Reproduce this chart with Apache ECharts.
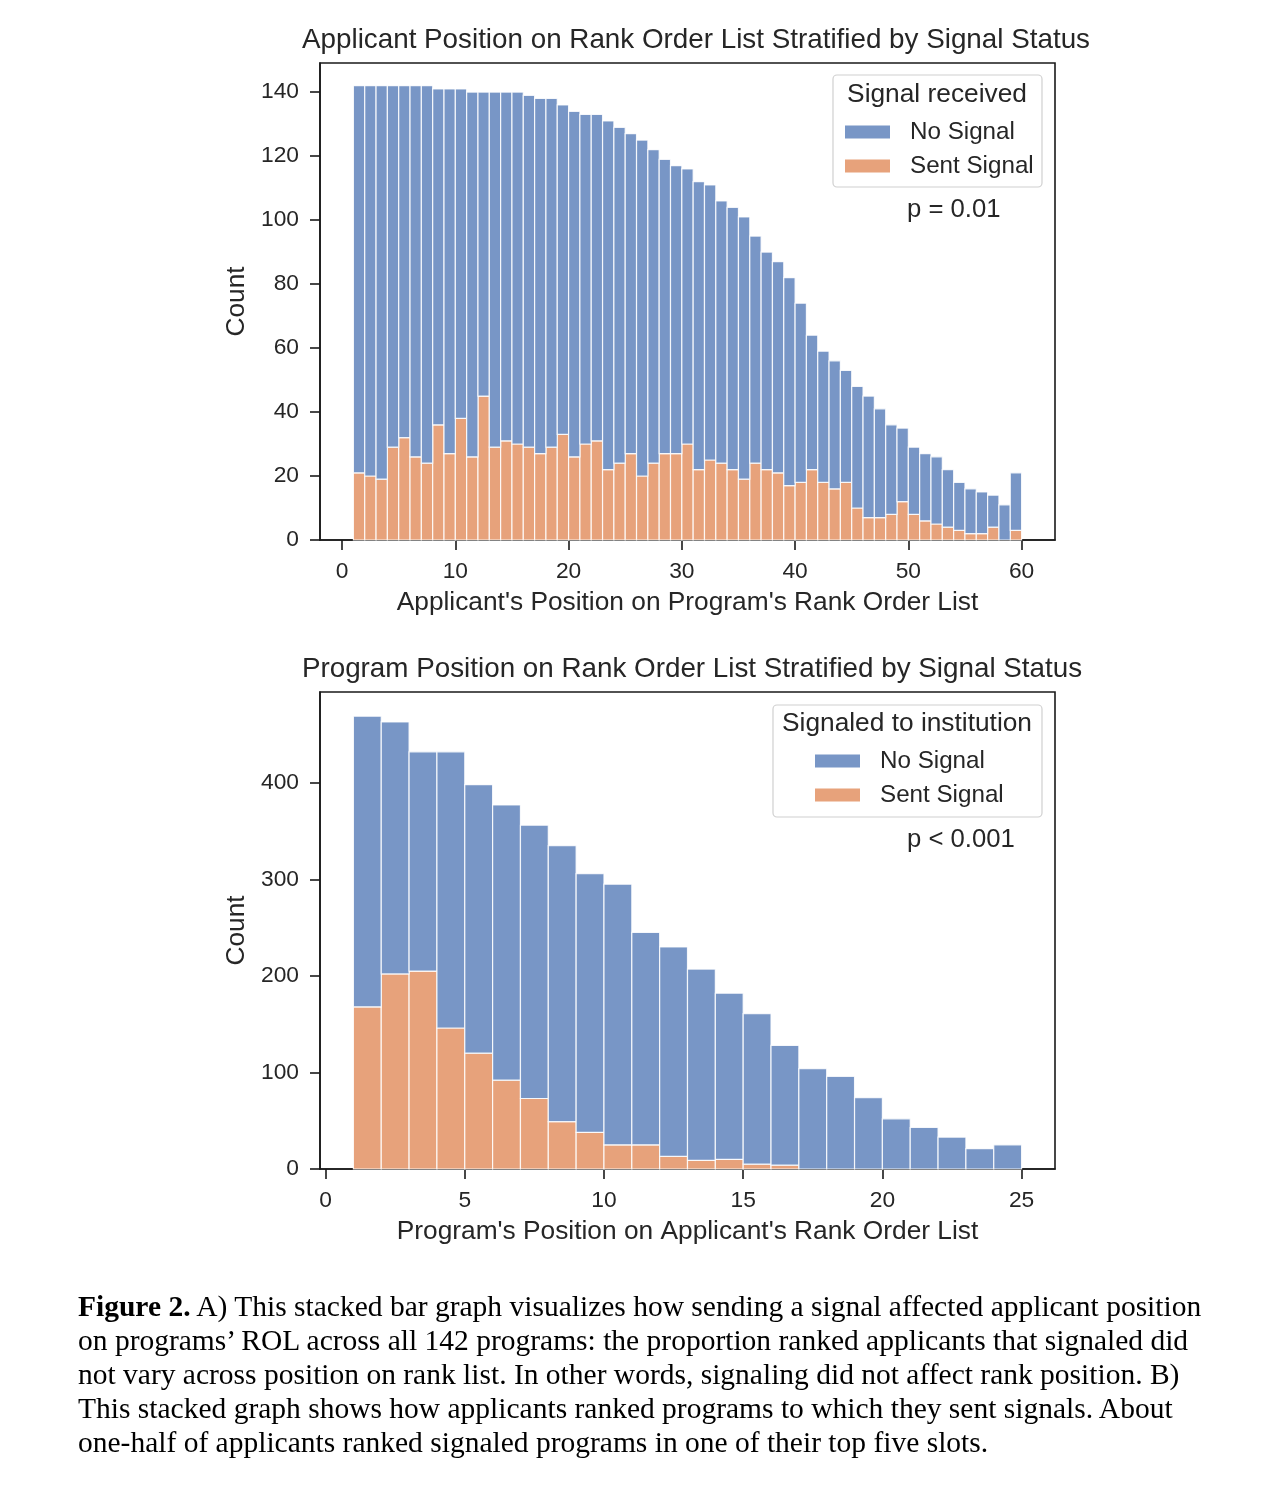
<!DOCTYPE html>
<html>
<head>
<meta charset="utf-8">
<script src="https://cdn.jsdelivr.net/npm/echarts@6/dist/echarts.min.js"></script>
<style>
  html, body { margin: 0; padding: 0; background: #ffffff; }
  #wrap { position: relative; width: 1272px; height: 1494px; }
  #chart { position: absolute; left: 0; top: 0; width: 1272px; height: 1494px; }
  #caption { position: absolute; left: 78px; top: 1289px; font-family: "Liberation Serif", "Times New Roman", serif; font-size: 29.5px; line-height: 34px; color: #000; white-space: nowrap; }
</style>
</head>
<body>
<div id="wrap">
  <div id="chart"></div>
  <div id="caption"><b>Figure 2.</b> A) This stacked bar graph visualizes how sending a signal affected applicant position<br>on programs’ ROL across all 142 programs: the proportion ranked applicants that signaled did<br>not vary across position on rank list. In other words, signaling did not affect rank position. B)<br>This stacked graph shows how applicants ranked programs to which they sent signals. About<br>one-half of applicants ranked signaled programs in one of their top five slots.</div>
</div>
<script>
// ---------- Chart A: applicant position on program's rank order list ----------
const binStartA = [1,2,3,4,5,6,7,8,9,10,11,12,13,14,15,16,17,18,19,20,21,22,23,24,25,26,27,28,29,30,31,32,33,34,35,36,37,38,39,40,41,42,43,44,45,46,47,48,49,50,51,52,53,54,55,56,57,58,59];
const binEndA   = [2,3,4,5,6,7,8,9,10,11,12,13,14,15,16,17,18,19,20,21,22,23,24,25,26,27,28,29,30,31,32,33,34,35,36,37,38,39,40,41,42,43,44,45,46,47,48,49,50,51,52,53,54,55,56,57,58,59,60];
const sentSignalA = [21,20,19,29,32,26,24,36,27,38,26,45,29,31,30,29,27,29,33,26,30,31,22,24,27,20,24,27,27,30,22,25,24,22,19,24,22,21,17,18,22,18,16,18,10,7,7,8,12,8,6,5,4,3,2,2,4,0,3];
const noSignalA   = [121,122,123,113,110,116,118,105,114,103,114,95,111,109,110,110,111,109,103,108,103,102,109,105,100,105,98,92,90,86,90,86,82,82,82,71,68,66,65,56,42,41,40,35,38,38,34,28,23,21,21,21,18,15,14,13,10,11,18];
const xTicksA = [0,10,20,30,40,50,60];
const yTicksA = [0,20,40,60,80,100,120,140];

// ---------- Chart B: program position on applicant's rank order list ----------
const binStartB = [1,2,3,4,5,6,7,8,9,10,11,12,13,14,15,16,17,18,19,20,21,22,23,24];
const binEndB   = [2,3,4,5,6,7,8,9,10,11,12,13,14,15,16,17,18,19,20,21,22,23,24,25];
const sentSignalB = [168,202,205,146,120,92,73,49,38,25,25,13,9,10,5,4,0,0,0,0,0,0,0,0];
const noSignalB   = [301,261,227,286,278,285,283,286,268,270,220,217,198,172,156,124,104,96,74,52,43,33,21,25];
const xTicksB = [0,5,10,15,20,25];
const yTicksB = [0,100,200,300,400];

const seriesNames = ['No Signal', 'Sent Signal'];
const titleA = 'Applicant Position on Rank Order List Stratified by Signal Status';
const titleB = 'Program Position on Rank Order List Stratified by Signal Status';
const xNameA = "Applicant's Position on Program's Rank Order List";
const xNameB = "Program's Position on Applicant's Rank Order List";
const legendTitleA = 'Signal received';
const legendTitleB = 'Signaled to institution';
const pTextA = 'p = 0.01';
const pTextB = 'p < 0.001';

const BLUE = '#7896c6';
const ORANGE = '#e7a27b';
const INK = '#262626';
const FONT = '"Liberation Sans", Arial, Helvetica, sans-serif';

function stackData(starts, ends, lower, upper, isUpper) {
  return starts.map((s, i) => {
    const base = isUpper ? lower[i] : 0;
    const top = isUpper ? lower[i] + upper[i] : lower[i];
    return [s, ends[i], base, top];
  });
}

function renderBar(params, api) {
  const p0 = api.coord([api.value(0), api.value(2)]);
  const p1 = api.coord([api.value(1), api.value(3)]);
  const h = p0[1] - p1[1];
  if (h <= 0) return null;
  return {
    type: 'rect',
    shape: { x: p0[0], y: p1[1], width: p1[0] - p0[0], height: h },
    style: { fill: api.visual('color'), stroke: 'rgba(255,255,255,0.85)', lineWidth: 1.2 }
  };
}

function makeXAxis(gi, min, max, ticks, name) {
  return {
    type: 'value', gridIndex: gi, min: min, max: max,
    name: name, nameLocation: 'middle', nameGap: 50,
    nameTextStyle: { fontFamily: FONT, fontSize: 26.3, color: INK },
    axisLine: { show: true, onZero: false, lineStyle: { color: '#1a1a1a', width: 1.6 } },
    axisTick: { show: true, length: 10, customValues: ticks, lineStyle: { color: '#1a1a1a', width: 1.6 } },
    axisLabel: { customValues: ticks, margin: 20, fontFamily: FONT, fontSize: 22.8, color: INK },
    splitLine: { show: false }
  };
}
function makeYAxis(gi, max, ticks) {
  return {
    type: 'value', gridIndex: gi, min: 0, max: max,
    name: 'Count', nameLocation: 'middle', nameGap: 70, nameRotate: 90,
    nameTextStyle: { fontFamily: FONT, fontSize: 26.3, color: INK },
    axisLine: { show: true, onZero: false, lineStyle: { color: '#1a1a1a', width: 1.6 } },
    axisTick: { show: true, length: 10, customValues: ticks, lineStyle: { color: '#1a1a1a', width: 1.6 } },
    axisLabel: { customValues: ticks, margin: 21, fontFamily: FONT, fontSize: 22.8, color: INK },
    splitLine: { show: false }
  };
}

function makeLegend(left, top) {
  return {
    orient: 'vertical', left: left, top: top, data: seriesNames, z: 20, padding: 0,
    itemWidth: 45, itemHeight: 13, itemGap: 10, icon: 'rect',
    selectedMode: false,
    textStyle: { fontFamily: FONT, fontSize: 24.2, color: INK, lineHeight: 24, padding: [0, 0, 0, 15] },
    itemStyle: { borderWidth: 0 }
  };
}

function text(x, y, str, size, align) {
  return { type: 'text', x: x, y: y, silent: true, z: 30,
    style: { text: str, fontFamily: FONT, fontSize: size, fill: INK, textAlign: align || 'center', textVerticalAlign: 'middle' } };
}

const chart = echarts.init(document.getElementById('chart'), null, { renderer: 'canvas' });
chart.setOption({
  animation: false,
  backgroundColor: '#ffffff',
  grid: [
    { left: 320, top: 63, width: 735, height: 477, show: true, borderColor: '#1a1a1a', borderWidth: 1.6, backgroundColor: 'transparent' },
    { left: 320, top: 692, width: 735, height: 477, show: true, borderColor: '#1a1a1a', borderWidth: 1.6, backgroundColor: 'transparent' }
  ],
  xAxis: [ makeXAxis(0, -1.95, 62.95, xTicksA, xNameA), makeXAxis(1, -0.2, 26.2, xTicksB, xNameB) ],
  yAxis: [ makeYAxis(0, 149.1, yTicksA), makeYAxis(1, 494, yTicksB) ],
  legend: [ makeLegend(845, 120), makeLegend(815, 749) ],
  series: [
    { name: 'Sent Signal', type: 'custom', xAxisIndex: 0, yAxisIndex: 0, renderItem: renderBar, itemStyle: { color: ORANGE },
      encode: { x: [0, 1], y: [2, 3] }, data: stackData(binStartA, binEndA, sentSignalA, noSignalA, false) },
    { name: 'No Signal', type: 'custom', xAxisIndex: 0, yAxisIndex: 0, renderItem: renderBar, itemStyle: { color: BLUE },
      encode: { x: [0, 1], y: [2, 3] }, data: stackData(binStartA, binEndA, sentSignalA, noSignalA, true) },
    { name: 'Sent Signal', type: 'custom', xAxisIndex: 1, yAxisIndex: 1, renderItem: renderBar, itemStyle: { color: ORANGE },
      encode: { x: [0, 1], y: [2, 3] }, data: stackData(binStartB, binEndB, sentSignalB, noSignalB, false) },
    { name: 'No Signal', type: 'custom', xAxisIndex: 1, yAxisIndex: 1, renderItem: renderBar, itemStyle: { color: BLUE },
      encode: { x: [0, 1], y: [2, 3] }, data: stackData(binStartB, binEndB, sentSignalB, noSignalB, true) }
  ],
  graphic: [
    text(696, 40, titleA, 27.8),
    text(692, 669, titleB, 27.8),
    { type: 'rect', z: 3, silent: true, shape: { x: 833, y: 75, width: 209, height: 112, r: 4 },
      style: { fill: 'rgba(255,255,255,0.85)', stroke: '#d0d0d0', lineWidth: 1.2 } },
    { type: 'rect', z: 3, silent: true, shape: { x: 773, y: 705, width: 269, height: 112, r: 4 },
      style: { fill: 'rgba(255,255,255,0.85)', stroke: '#d0d0d0', lineWidth: 1.2 } },
    text(937, 95, legendTitleA, 26.3),
    text(907, 724, legendTitleB, 26.3),
    text(907, 210, pTextA, 25.7, 'left'),
    text(907, 840, pTextB, 25.7, 'left')
  ]
});
</script>
</body>
</html>
